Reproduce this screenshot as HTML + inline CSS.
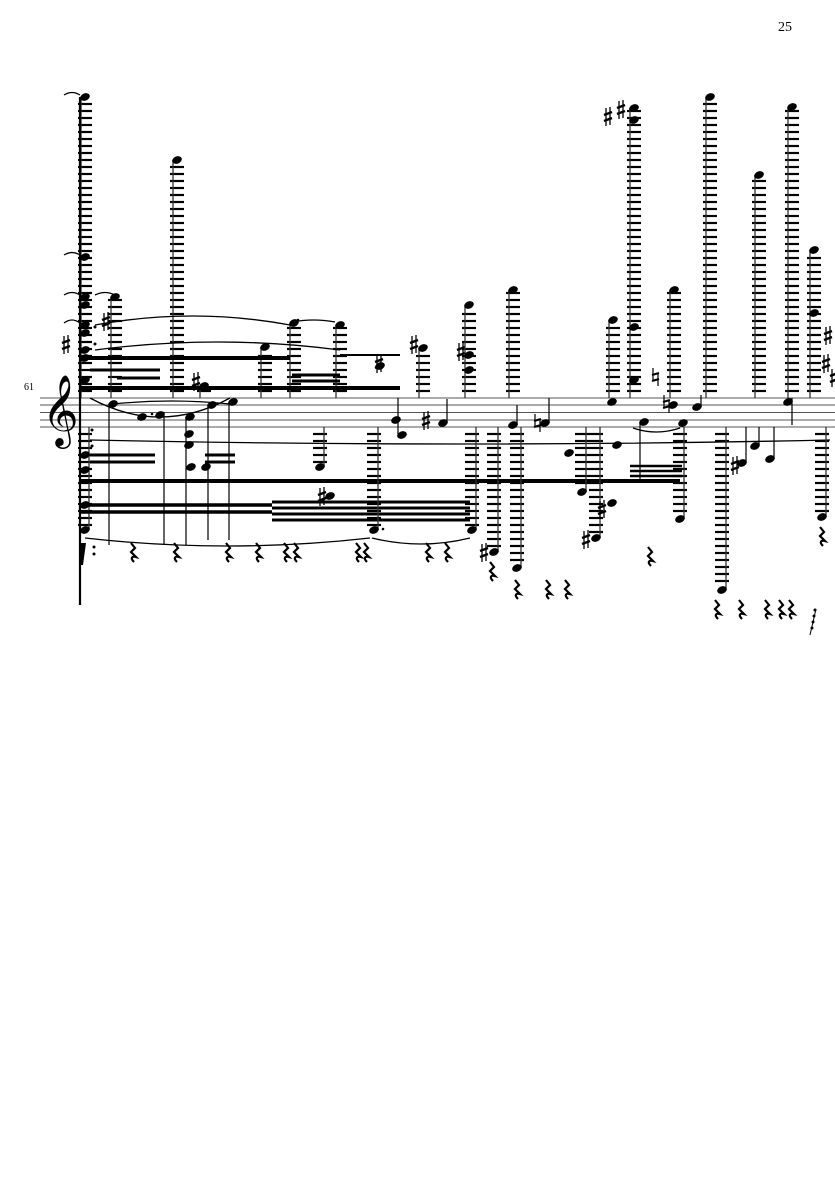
<!DOCTYPE html>
<html><head><meta charset="utf-8"><style>
html,body{margin:0;padding:0;background:#fff;}
svg{display:block;}
text{font-family:"Liberation Serif","DejaVu Serif",serif;}
</style></head><body>
<svg id="s" width="835" height="1181" viewBox="0 0 835 1181" xmlns="http://www.w3.org/2000/svg">
<rect width="835" height="1181" fill="#fff"/>
<text x="778" y="31" font-size="14">25</text>
<text x="24" y="390" font-size="10">61</text>
<g stroke="#555" stroke-width="1">
<line x1="40" y1="398" x2="835" y2="398"/>
<line x1="40" y1="405" x2="835" y2="405"/>
<line x1="40" y1="412.5" x2="835" y2="412.5"/>
<line x1="40" y1="420" x2="835" y2="420"/>
<line x1="40" y1="427" x2="835" y2="427"/>
</g>
<text x="42" y="431" font-size="62" font-family="DejaVu Sans">𝄞</text>
<g id="g"></g>
</svg>
<script>
var g=document.getElementById('g'),h='';
function L(x1,y1,x2,y2,w,c){h+='<line x1="'+x1+'" y1="'+y1+'" x2="'+x2+'" y2="'+y2+'" stroke="'+(c||'#000')+'" stroke-width="'+(w||1)+'"/>';}
function head(x,y){h+='<ellipse cx="'+x+'" cy="'+y+'" rx="5" ry="3.6" transform="rotate(-22 '+x+' '+y+')" fill="#000"/>';}
function up(x,top,notes){
 for(var y=391;y>=top+3;y-=7)L(x-7,y,x+7,y,2.2);
 L(x-4,top,x-4,398,1.3,'#333');
 head(x,top);(notes||[]).forEach(function(n){head(x,n)});}
function dn(x,bot,notes){
 for(var y=434;y<=bot-3;y+=7)L(x-7,y,x+7,y,2.2);
 L(x+4,427,x+4,bot,1.3,'#333');
 head(x,bot);(notes||[]).forEach(function(n){head(x,n)});}
function sh(x,y){x+=2;h+='<g stroke="#000"><line x1="'+(x+2)+'" y1="'+(y-9)+'" x2="'+(x+2)+'" y2="'+(y+9)+'" stroke-width="1.3"/><line x1="'+(x+6)+'" y1="'+(y-10)+'" x2="'+(x+6)+'" y2="'+(y+8)+'" stroke-width="1.3"/><line x1="'+x+'" y1="'+(y-2)+'" x2="'+(x+8)+'" y2="'+(y-5)+'" stroke-width="2.5"/><line x1="'+x+'" y1="'+(y+4)+'" x2="'+(x+8)+'" y2="'+(y+1)+'" stroke-width="2.5"/></g>';}
function nat(x,y){h+='<g stroke="#000"><line x1="'+(x+1)+'" y1="'+(y-9)+'" x2="'+(x+1)+'" y2="'+(y+4)+'" stroke-width="1.2"/><line x1="'+(x+6)+'" y1="'+(y-4)+'" x2="'+(x+6)+'" y2="'+(y+9)+'" stroke-width="1.2"/><line x1="'+x+'" y1="'+(y-2)+'" x2="'+(x+7)+'" y2="'+(y-4)+'" stroke-width="2.2"/><line x1="'+x+'" y1="'+(y+4)+'" x2="'+(x+7)+'" y2="'+(y+2)+'" stroke-width="2.2"/></g>';}
function rest(x,y){h+='<path d="M'+(x-1)+' '+(y-10)+' l4 5 -4 4 5 5 c-4 -1 -6 1 -2 5" stroke="#000" stroke-width="2.2" fill="none"/>';}
function tie(x1,x2,y,d){h+='<path d="M'+x1+' '+y+' Q'+((x1+x2)/2)+' '+(y+d)+' '+x2+' '+y+'" stroke="#000" stroke-width="1.3" fill="none"/>';}
up(85,97,[257,297,305,325,333,350,358,380]);dn(85,530,[455,470,505]);
L(80,97,80,605,2.2,'#000');
sh(100,322);sh(60,345);
tie(64,80,95,-5);tie(64,80,255,-5);tie(64,80,295,-5);tie(95,115,295,-5);tie(64,80,323,-6);
up(115,297);up(177,160);
up(265,347);up(294,323);up(340,325);
sh(190,382);up(204,386);
sh(408,345);up(423,348);
sh(455,352);up(469,305,[355,370]);
up(513,290);up(613,320);
sh(602,117);sh(615,110);up(634,108,[120,327]);
up(674,290);up(710,97);up(759,175);up(792,107);up(814,250,[313]);
sh(822,336);sh(820,364);sh(828,378);
tie(95,290,325,-18);tie(95,340,350,-16);tie(292,335,322,-4);
tie(90,230,398,38);tie(90,830,440,8);
tie(85,370,538,16);tie(372,470,538,12);tie(633,680,428,8);
head(113,404);L(109,404,109,545,1.2);head(142,417);head(160,415);L(164,412,164,545,1.2);
head(190,417);L(186,417,186,545,1.2);head(212,405);L(208,405,208,540,1.2);head(233,402);L(229,402,229,540,1.2);
tie(113,230,404,-6);
head(189,434);head(189,445);head(191,467);head(206,467);
head(396,420);head(402,435);L(398,398,398,435,1.2);sh(373,364);head(380,366);
sh(420,421);head(443,423);L(447,399,447,423,1.2);
head(513,425);L(517,405,517,425,1.2);nat(534,423);head(545,423);L(549,398,549,423,1.2);
head(612,402);head(634,380);nat(652,377);head(697,407);L(701,395,701,407,1.2);
head(644,422);L(640,422,640,480,1.2);nat(663,404);head(673,405);head(683,423);
head(788,402);L(792,398,792,425,1.2);
L(80,358,290,358,4);L(80,388,400,388,4);L(90,370,160,370,3);L(117,378,160,378,3);
L(80,481,680,481,4);L(80,505,272,505,3.5);L(80,512,272,512,3.5);
L(272,502,470,502,3);L(272,508,470,508,3);L(272,514,470,514,3);L(272,520,470,520,3);
L(90,455,155,455,3);L(90,462,155,462,3);L(205,455,235,455,3);L(205,462,235,462,3);
L(292,375,340,375,3);L(292,381,340,381,3);L(630,466,682,466,2.5);L(630,471,682,471,2.5);L(630,476,682,476,2.5);
L(340,355,400,355,2);
dn(320,467);sh(316,497);head(330,496);
dn(374,530);dn(472,530);dn(494,552);sh(478,553);dn(517,568);
head(569,453);dn(582,492);dn(596,538);sh(580,540);head(617,445);head(612,503);sh(596,510);
dn(680,519);dn(722,590);sh(729,466);head(742,463);head(755,446);head(770,459);
L(746,427,746,463,1.2);L(759,427,759,446,1.2);L(774,427,774,459,1.2);
dn(822,517);
[[132,553],[175,553],[227,553],[257,553],[285,553],[295,553],[357,553],[365,553],[427,553],[446,553],[491,572],[516,590],[547,590],[566,590],[649,557],[716,610],[740,610],[766,610],[780,610],[790,610],[821,537]].forEach(function(r){rest(r[0],r[1])});
h+='<path d="M81 543 l5 0 -3 22 -3 0z" fill="#000"/><circle cx="94" cy="547" r="1.5"/><circle cx="94" cy="554" r="1.5"/>';
h+='<path d="M810 635 l6 -26" stroke="#000" stroke-width="1"/><circle cx="812" cy="628" r="1.5"/><circle cx="813" cy="622" r="1.5"/><circle cx="814" cy="616" r="1.5"/><circle cx="815" cy="610" r="1.5"/>';
h+='<circle cx="377" cy="529" r="1.3"/><circle cx="383" cy="529" r="1.3"/><circle cx="95" cy="327" r="1.5"/><circle cx="95" cy="344" r="1.5"/><circle cx="92" cy="430" r="1.5"/><circle cx="92" cy="446" r="1.5"/><circle cx="152" cy="414" r="1.3"/><circle cx="298" cy="320" r="1.3"/>';
g.innerHTML=h;
</script>
</body></html>
